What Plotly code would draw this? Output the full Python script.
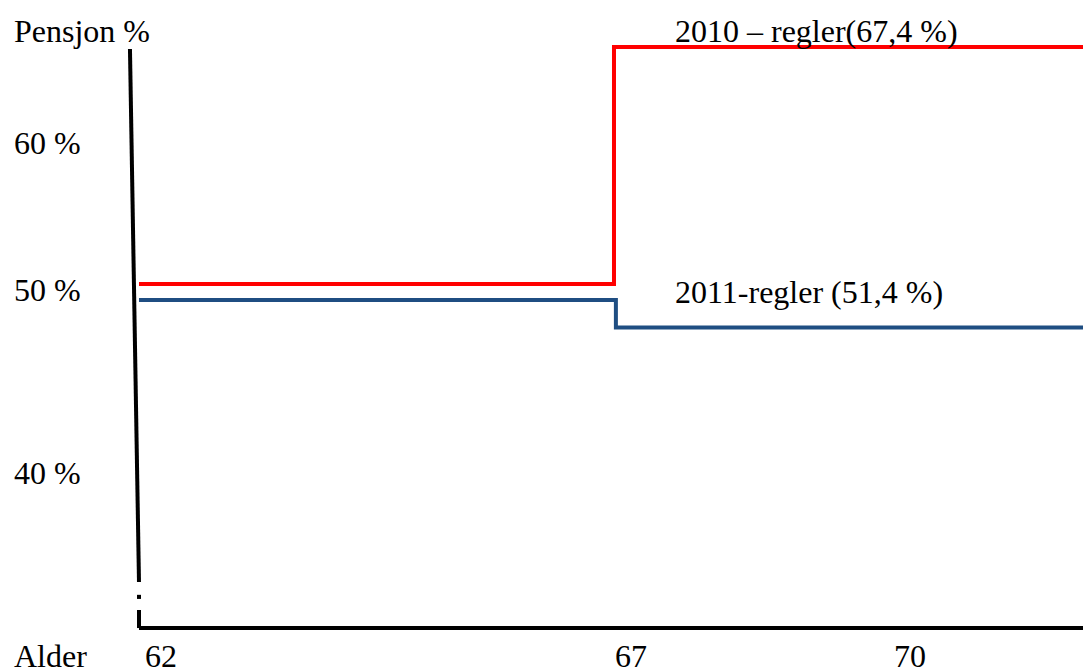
import plotly.graph_objects as go

# ---- data ----
ages = [62, 67, 72]                       # step positions (last point runs off the right edge)
regler_2010 = [50.54, 66.67, 66.67]       # red line, pension %
regler_2011 = [49.46, 47.59, 47.59]       # blue line, pension %
age_ticks = [62, 67, 70]
age_tick_labels = ["62", "67", "70"]
pct_tick_labels = ["60 %", "50 %", "40 %"]
pct_tick_pos = [60, 50, 37.55]
label_2010 = "2010 – regler(67,4 %)"
label_2011 = "2011-regler (51,4 %)"

# axis drawing (slightly slanted y axis, broken at the bottom)
yaxis_x = [61.905, 62.0, None, 62.0, 62.0, None, 62.0, 62.0]
yaxis_y = [66.53, 30.27, None, 29.40, 29.12, None, 28.37, 27.14]
xaxis_x = [62.0, 72.5]
xaxis_y = [27.14, 27.14]

W, H = 1083, 671
X0, X1 = 60.537, 71.937
Y0, Y1 = 24.218, 69.864
FONT = dict(family="Liberation Serif, Times New Roman, serif", size=32, color="black")

fig = go.Figure()
fig.add_trace(go.Scatter(x=yaxis_x, y=yaxis_y, mode="lines",
                         line=dict(color="black", width=4), hoverinfo="skip"))
fig.add_trace(go.Scatter(x=xaxis_x, y=xaxis_y, mode="lines",
                         line=dict(color="black", width=4), hoverinfo="skip"))
fig.add_trace(go.Scatter(x=ages, y=regler_2010, mode="lines", line_shape="hv",
                         line=dict(color="#FF0000", width=4), name=label_2010))
fig.add_trace(go.Scatter(x=[ages[0], ages[1] + 0.02, ages[2]], y=regler_2011, mode="lines",
                         line_shape="hv", line=dict(color="#1F4E82", width=4), name=label_2011))

ann = []
def px_y(py):
    return 1 - py / H

ann.append(dict(text="Pensjon %", x=12 / W, y=px_y(31), xref="paper", yref="paper",
                xanchor="left", yanchor="middle", showarrow=False, font=FONT))
for lab, yv in zip(pct_tick_labels, pct_tick_pos):
    ann.append(dict(text=lab, x=12 / W, y=yv, xref="paper", yref="y", yshift=2,
                    xanchor="left", yanchor="middle", showarrow=False, font=FONT))
ann.append(dict(text="Alder", x=12 / W, y=px_y(656), xref="paper", yref="paper",
                xanchor="left", yanchor="middle", showarrow=False, font=FONT))
for xv, lab, sh in zip(age_ticks, age_tick_labels, [22, 17, 11]):
    ann.append(dict(text=lab, x=xv, y=px_y(656), xref="x", yref="paper", xshift=sh,
                    xanchor="center", yanchor="middle", showarrow=False, font=FONT))
ann.append(dict(text=label_2010, x=673 / W, y=px_y(31), xref="paper", yref="paper",
                xanchor="left", yanchor="middle", showarrow=False, font=FONT))
ann.append(dict(text=label_2011, x=673 / W, y=px_y(292), xref="paper", yref="paper",
                xanchor="left", yanchor="middle", showarrow=False, font=FONT))

fig.update_layout(
    width=W, height=H, margin=dict(l=0, r=0, t=0, b=0),
    paper_bgcolor="white", plot_bgcolor="white", showlegend=False,
    xaxis=dict(range=[X0, X1], visible=False, fixedrange=True),
    yaxis=dict(range=[Y0, Y1], visible=False, fixedrange=True),
    annotations=ann,
)
fig.write_html("out.html", config=dict(displayModeBar=False),
               post_script="document.body.style.margin='0';document.body.style.overflow='hidden';")
